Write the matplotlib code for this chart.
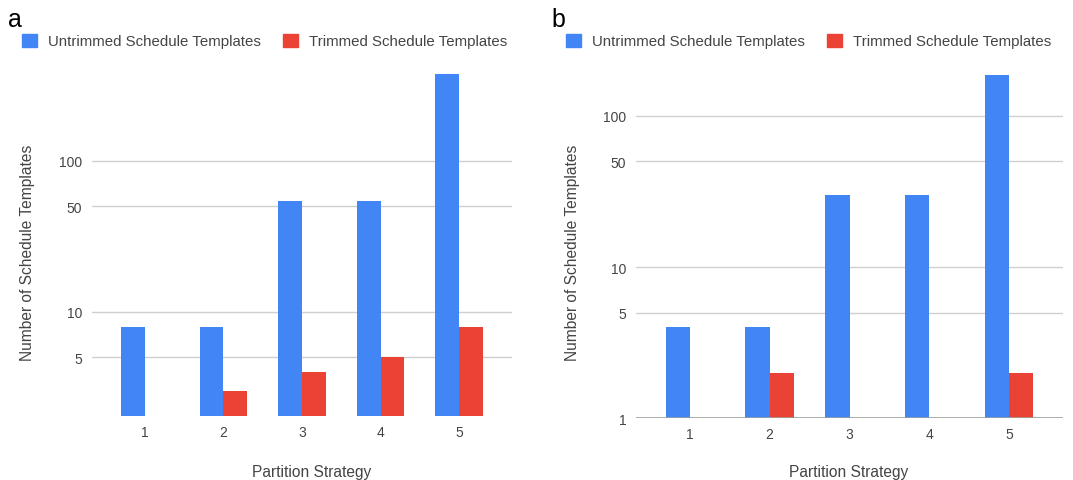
import matplotlib
matplotlib.use("Agg")
import matplotlib.pyplot as plt
from matplotlib.patches import Patch
import numpy as np

plt.rcParams['font.family'] = ['Liberation Sans', 'DejaVu Sans']

strategies = ["1", "2", "3", "4", "5"]
series_names = ["Untrimmed Schedule Templates", "Trimmed Schedule Templates"]
a_untrimmed = [8, 8, 54, 54, 378]
a_trimmed = [2, 3, 4, 5, 8]
b_untrimmed = [4, 4, 30, 30, 187]
b_trimmed = [1, 2, 1, 1, 2]
a_ticks = [5, 10, 50, 100]
b_ticks = [1, 5, 10, 50, 100]

BLUE = "#4285F4"
RED = "#EA4335"
GRID = "#d0d0d0"
TXT = "#444444"

W, H = 1073, 481
fig = plt.figure(figsize=(W / 100, H / 100), dpi=100)

def pix_axes(l, r, t, b):
    return fig.add_axes([l / W, 1 - b / H, (r - l) / W, (b - t) / H])

def draw(ax, unt, tri, ticks, ylim, baseline):
    x = np.arange(1, len(strategies) + 1)
    bw = 0.305
    ax.set_yscale('log')
    ax.bar(x - bw / 2, unt, width=bw, color=BLUE, zorder=3)
    ax.bar(x + bw / 2, tri, width=bw, color=RED, zorder=3)
    ax.set_ylim(*ylim)
    ax.set_xlim(1 - 0.675, len(strategies) + 0.675)
    ax.set_xticks(x)
    ax.set_xticklabels(strategies)
    ax.set_yticks(ticks)
    ax.set_yticklabels([str(t) for t in ticks])
    ax.yaxis.set_minor_locator(matplotlib.ticker.NullLocator())
    ax.tick_params(axis='both', length=0, labelsize=10, labelcolor=TXT)
    ax.tick_params(axis='y', pad=7)
    ax.tick_params(axis='x', pad=6)
    for s in ax.spines.values():
        s.set_visible(False)
    for t in ticks:
        if baseline and t == ticks[0]:
            ax.axhline(t, color="#9e9e9e", lw=1.2, zorder=4)
        else:
            ax.axhline(t, color=GRID, lw=1.0, zorder=1)

ax1 = pix_axes(92, 512, 62, 417.3)
draw(ax1, a_untrimmed, a_trimmed, a_ticks, (10 ** 0.309, 10 ** 2.662), False)
ax2 = pix_axes(636, 1063, 62, 419.3)
draw(ax2, b_untrimmed, b_trimmed, b_ticks, (1, 10 ** 2.3616), True)

for ax, lx, ly, xl, ylx in [(ax1, 19, 42, 312, 28), (ax2, 563, 42, 849, 572)]:
    handles = [Patch(color=BLUE), Patch(color=RED)]
    fig.legend(handles, series_names, loc='center left',
               bbox_to_anchor=(lx / W, 1 - ly / H), ncol=2, frameon=False,
               fontsize=10.8, handlelength=1.0, handleheight=1.0,
               handletextpad=0.75, columnspacing=1.45, labelcolor=TXT,
               borderaxespad=0, borderpad=0.2)
    fig.text(xl / W, 1 - 473 / H, "Partition Strategy", ha='center', va='center',
             fontsize=11.2, color=TXT)
    fig.text(ylx / W, 1 - 253 / H, "Number of Schedule Templates", ha='center',
             va='center', rotation=90, fontsize=11.2, color=TXT)

fig.text(8 / W, 1 - 27 / H, "a", ha='left', va='baseline', fontsize=18, color='black')
fig.text(551 / W, 1 - 27 / H, "b", ha='left', va='baseline', fontsize=18, color='black')

fig.savefig("out.png", dpi=100)
